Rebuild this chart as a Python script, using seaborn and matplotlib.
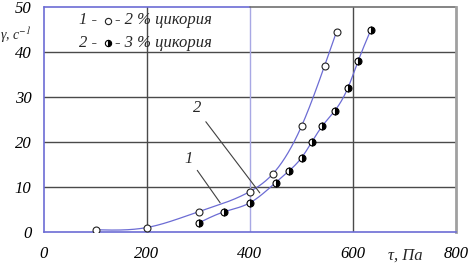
import numpy as np
import pandas as pd
import matplotlib
matplotlib.use("Agg")
import matplotlib.pyplot as plt
import seaborn as sns

# ---- data ----
tau_1 = [100, 200, 300, 400, 445, 500, 545, 568]
gamma_1 = [0.5, 1.0, 4.5, 9.0, 13.0, 23.5, 37.0, 44.5]
tau_2 = [300, 350, 400, 450, 475, 500, 520, 540, 565, 590, 610, 635]
gamma_2 = [2.0, 4.5, 6.5, 11.0, 13.5, 16.5, 20.0, 23.5, 27.0, 32.0, 38.0, 45.0]
x_ticks = [0, 200, 400, 600, 800]
y_ticks = [0, 10, 20, 30, 40, 50]
legend_labels = ["- 2 % цикория", "- 3 % цикория"]
curve_labels = ["1", "2"]


def natural_spline(x, y, n=300):
    x = np.asarray(x, float)
    y = np.asarray(y, float)
    m = len(x)
    h = np.diff(x)
    A = np.zeros((m, m))
    b = np.zeros(m)
    A[0, 0] = 1
    A[-1, -1] = 1
    for i in range(1, m - 1):
        A[i, i - 1] = h[i - 1]
        A[i, i] = 2 * (h[i - 1] + h[i])
        A[i, i + 1] = h[i]
        b[i] = 3 * ((y[i + 1] - y[i]) / h[i] - (y[i] - y[i - 1]) / h[i - 1])
    c = np.linalg.solve(A, b)
    xs = np.linspace(x[0], x[-1], n)
    ys = np.empty_like(xs)
    for k, xv in enumerate(xs):
        i = min(np.searchsorted(x, xv, side="right") - 1, m - 2)
        dx = xv - x[i]
        bi = (y[i + 1] - y[i]) / h[i] - h[i] * (2 * c[i] + c[i + 1]) / 3
        di = (c[i + 1] - c[i]) / (3 * h[i])
        ys[k] = y[i] + bi * dx + c[i] * dx ** 2 + di * dx ** 3
    return xs, ys


sns.set_theme(style="white")
plt.rcParams["font.family"] = ["Liberation Serif", "DejaVu Serif"]
plt.rcParams["font.style"] = "italic"
plt.rcParams["mathtext.fontset"] = "stix"

fig = plt.figure(figsize=(4.75, 2.65), dpi=100)
ax = fig.add_axes([44 / 475, 1 - 232 / 265, 412 / 475, 225 / 265])
ax.set_facecolor("white")

blue = "#6c6cd4"
grid_dark = "#4a4a4a"

ax.set_xlim(0, 800)
ax.set_ylim(0, 50)

# grid
for yv in y_ticks[1:-1]:
    ax.axhline(yv, color=grid_dark, lw=1.0, zorder=1)
ax.axvline(200, color=grid_dark, lw=1.0, zorder=1)
ax.axvline(600, color=grid_dark, lw=1.0, zorder=1)
ax.axvline(400, color="#a8a8e4", lw=1.0, zorder=1)

# spines
for s in ["left", "bottom"]:
    ax.spines[s].set_color(blue)
    ax.spines[s].set_linewidth(1.2)
ax.spines["top"].set_visible(False)
ax.axhline(50, xmin=0, xmax=0.5, color=blue, lw=1.2, clip_on=False, zorder=2)
ax.axhline(50, xmin=0.5, xmax=1, color="#707070", lw=1.2, clip_on=False, zorder=2)
ax.spines["right"].set_color("#a0a0a0")
ax.spines["right"].set_linewidth(2.0)

# curves
xs1, ys1 = natural_spline(tau_1, gamma_1)
xs2, ys2 = natural_spline(tau_2, gamma_2)
sns.lineplot(x=xs1, y=ys1, sort=False, estimator=None, color=blue, lw=0.9, ax=ax, zorder=3)
sns.lineplot(x=xs2, y=ys2, sort=False, estimator=None, color=blue, lw=0.9, ax=ax, zorder=3)

# markers
sns.lineplot(x=tau_1, y=gamma_1, sort=False, estimator=None, marker="o", linestyle="",
             markersize=5, markerfacecolor="white", markeredgecolor="#222222",
             markeredgewidth=0.8, color="black", ax=ax, zorder=4)
sns.lineplot(x=tau_2, y=gamma_2, sort=False, estimator=None, marker="o", linestyle="",
             markersize=5, fillstyle="right", markerfacecolor="black",
             markerfacecoloralt="white", markeredgecolor="black",
             markeredgewidth=0.8, color="black", ax=ax, zorder=4)

# ticks
ax.set_xticks(x_ticks)
ax.set_yticks(y_ticks)
ax.set_xticklabels([str(v) for v in x_ticks])
ax.set_yticklabels([str(v) for v in y_ticks])
ax.tick_params(axis="both", length=0, labelsize=12, colors="black")
ax.tick_params(axis="x", pad=10)
ax.tick_params(axis="y", pad=9)

# axis labels
ax.text(0.876, -0.105, "τ, Па", transform=ax.transAxes, ha="center", va="center",
        fontsize=12, style="italic")
ax.text(-0.07, 0.875, "γ, с$^{-1}$", transform=ax.transAxes, ha="center", va="center",
        fontsize=10, style="italic")

# legend (text + marker symbols)
fs = 12
y1, y2 = 0.94, 0.842
ax.text(0.085, y1, "1 -", transform=ax.transAxes, ha="left", va="center", fontsize=fs)
ax.plot([0.155], [y1], transform=ax.transAxes, marker="o", markersize=4.5,
        markerfacecolor="white", markeredgecolor="#222222", markeredgewidth=0.8,
        linestyle="", clip_on=False, zorder=5)
ax.text(0.172, y1, legend_labels[0], transform=ax.transAxes, ha="left", va="center", fontsize=fs)
ax.text(0.085, y2, "2 -", transform=ax.transAxes, ha="left", va="center", fontsize=fs)
ax.plot([0.155], [y2], transform=ax.transAxes, marker="o", markersize=4.5,
        fillstyle="right", markerfacecolor="black", markerfacecoloralt="white",
        markeredgecolor="black", markeredgewidth=0.8, linestyle="", clip_on=False, zorder=5)
ax.text(0.172, y2, legend_labels[1], transform=ax.transAxes, ha="left", va="center", fontsize=fs)

# curve annotations with leader lines
ax.annotate(curve_labels[0], xy=(342, 6.5), xytext=(280, 16.3), fontsize=12,
            ha="center", va="center",
            arrowprops=dict(arrowstyle="-", color="#404040", lw=0.8, shrinkA=2, shrinkB=0,
                            relpos=(1.0, 0.2)))
ax.annotate(curve_labels[1], xy=(419, 8.7), xytext=(298, 27.5), fontsize=12,
            ha="center", va="center",
            arrowprops=dict(arrowstyle="-", color="#404040", lw=0.8, shrinkA=2, shrinkB=0,
                            relpos=(1.0, 0.0)))

fig.savefig("out.png", dpi=100, facecolor="white")
